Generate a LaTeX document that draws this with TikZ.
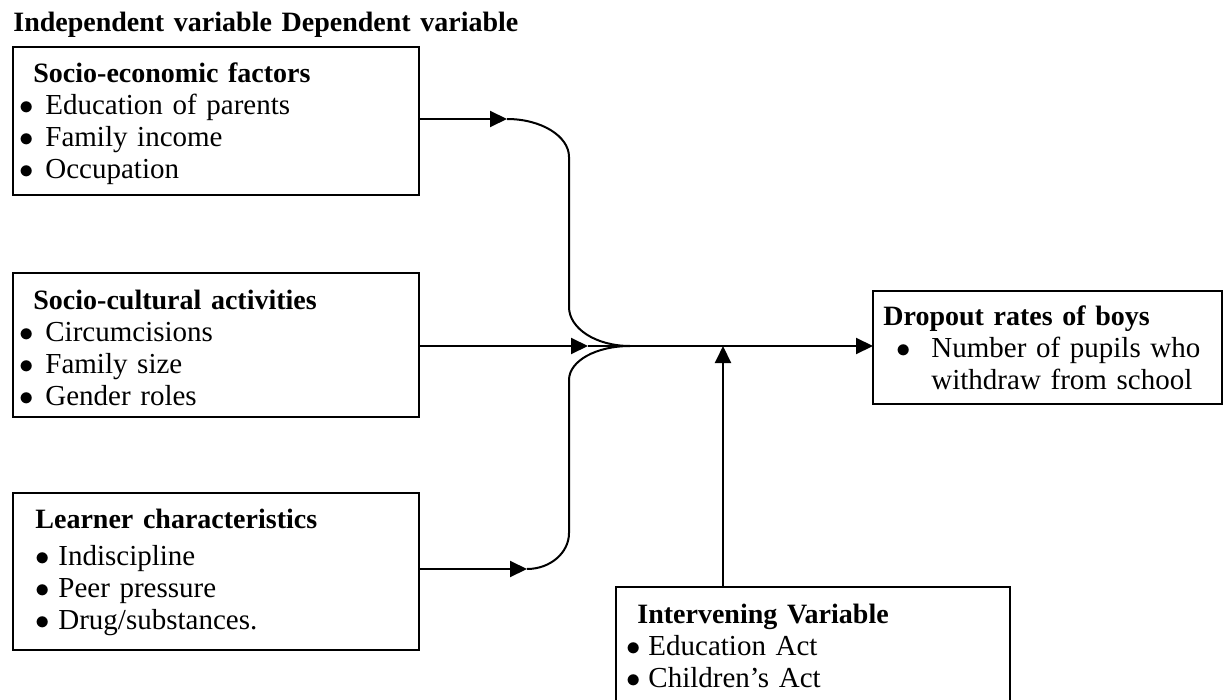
\documentclass[tikz,border=0pt]{standalone}
\usepackage{fontspec}
\setmainfont{Liberation Serif}
\usepackage{tikz}
\usetikzlibrary{arrows.meta,calc,positioning}
\newcommand{\itm}[2][11pt]{\makebox[#1][l]{$\bullet$}#2}
\newcommand{\hd}[1]{{\fontsize{14}{16}\selectfont\bfseries #1}}
\tikzset{
	bx/.style={draw,line width=1.1pt,inner sep=0pt,outer sep=0pt,anchor=north west},
	txt/.style={anchor=base west,inner sep=0pt,text width=#1,align=left,
		font=\fontsize{14.5}{16}\selectfont},
	txt/.default=190pt,
	ar/.style={line width=1pt,-{Triangle[length=8.5pt,width=8pt]}},
	ln/.style={line width=1pt}
}

\begin{document}
\begin{tikzpicture}[x=0.5pt,y=-0.5pt]
	\useasboundingbox (0,0) rectangle (1224,700);
	\node[txt=320pt] (head) at (13,32) {\hd{Independent variable Dependent variable}};
	% boxes
	\node[bx,minimum width=203pt,minimum height=74pt] (se) at (13,47) {};
	\node[bx,minimum width=203pt,minimum height=72pt] (sc) at (13,273) {};
	\node[bx,minimum width=203pt,minimum height=78.5pt] (lc) at (13,493) {};
	\node[bx,minimum width=174.5pt,minimum height=56.5pt] (dr) at (873,291) {};
	\node[bx,minimum width=197pt,minimum height=70pt] (iv) at (616,587) {};
	% box texts
	\node[txt] (se-t) at (19,83) {\hspace*{7pt}\hd{Socio-economic factors}\\
		\itm[13pt]{Education of parents}\\ \itm[13pt]{Family income}\\ \itm[13pt]{Occupation}};
	\node[txt] (sc-t) at (19,309) {\hspace*{7pt}\hd{Socio-cultural activities}\\
		\itm[13pt]{Circumcisions}\\ \itm[13pt]{Family size}\\ \itm[13pt]{Gender roles}};
	\node[txt] (lc-t) at (35,528) {\hd{Learner characteristics}\\[2.5pt]
		\itm[11.5pt]{Indiscipline}\\ \itm[11.5pt]{Peer pressure}\\ \itm[11.5pt]{Drug/substances.}};
	\node[txt=170pt] (dr-t) at (883,325) {\hd{Dropout rates of boys}\\
		\hspace*{6.5pt}\itm[17.5pt]{Number of pupils who}\\ \hspace*{24pt}withdraw from school};
	\node[txt] (iv-t) at (626,623) {\hspace*{5.5pt}\hd{Intervening Variable}\\
		\itm{Education Act}\\ \itm{Children's Act}};
	% connectors
	\coordinate (setip) at (507,119);
	\coordinate (lctip) at (527,569);
	\coordinate (mid) at (588,346);
	\coordinate (cusp) at (630,346);
	\coordinate (join) at (723,346);
	\draw[ar] (setip -| se.east) -- (setip);
	\draw[ar] (mid -| sc.east) -- (mid);
	\draw[ar] (lctip -| lc.east) -- (lctip);
	\draw[ln] (setip) .. controls (541,119) and (569,136) .. (569,157) -- (569,307)
		.. controls (569,328.5) and (596,346) .. (cusp);
	\draw[ln] (lctip) .. controls (550,569) and (569,553) .. (569,533) -- (569,380)
		.. controls (569,361) and (596,346) .. (cusp);
	\draw[ar] (mid) -- (mid -| dr.west);
	\draw[ar] (join |- iv.north) -- (join);
\end{tikzpicture}
\end{document}
